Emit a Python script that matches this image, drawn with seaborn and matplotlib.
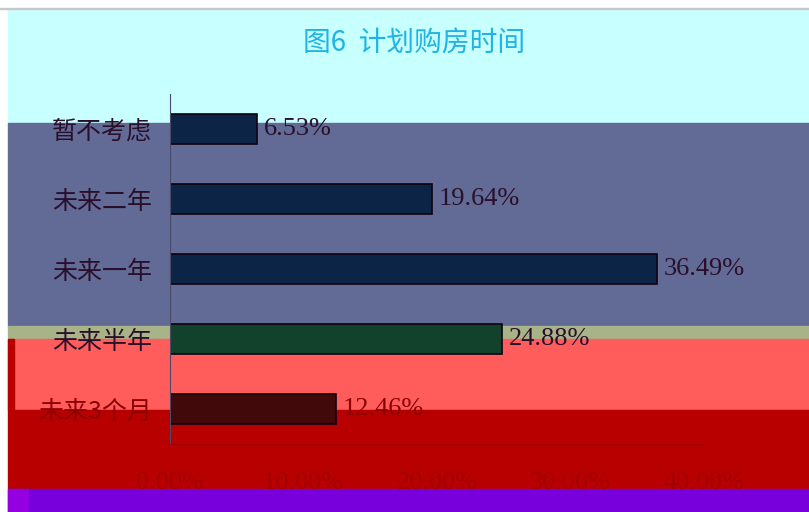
import matplotlib
matplotlib.use("Agg")
import matplotlib.pyplot as plt
from matplotlib.patches import Rectangle
import seaborn as sns
import pandas as pd

# data
categories = ["暂不考虑", "未来二年", "未来一年", "未来半年", "未来3个月"]
shares = [6.53, 19.64, 36.49, 24.88, 12.46]
x_ticks = [0, 10, 20, 30, 40]

bar_colors = ["#022450", "#022450", "#022450", "#0a4a2c", "#4a0000"]
label_colors = ["#2a0f2a", "#2a0f2a", "#2a0f2a", "#2a0f2a", "#8c0000"]

df = pd.DataFrame({"category": categories, "share": shares})

sns.set_theme(style="white")
plt.rcParams["font.family"] = ["Noto Sans CJK SC", "DejaVu Sans"]

W, H = 809, 512
fig = plt.figure(figsize=(W / 100, H / 100), dpi=100)
fig.patch.set_facecolor("white")

# background colour bands (pixel coords from top)
bands = [
    (8, 9, 123, "#c8ffff"),
    (8, 123, 326, "#626a96"),
    (8, 326, 339, "#a8b488"),
    (8, 339, 410, "#ff5c5c"),
    (8, 410, 489, "#b80000"),
    (8, 489, 512, "#7700dd"),
    (8, 339, 410, "#b80000"),
]
for i, (x0, y0, y1, c) in enumerate(bands):
    w = (14 - x0) if i == 6 else (W - x0)
    fig.patches.append(Rectangle((x0 / W, 1 - y1 / H), w / W, (y1 - y0) / H,
                                 transform=fig.transFigure, color=c, zorder=-5))
fig.patches.append(Rectangle((8 / W, 0), 20 / W, 23 / H, transform=fig.transFigure,
                             color="#9400e0", zorder=-5))
fig.patches.append(Rectangle((0, 1 - 9 / H), 1, 1.5 / H, transform=fig.transFigure,
                             color="#c8c8c8", zorder=-5))

ax = fig.add_axes([170 / W, 1 - 444 / H, (704 - 170) / W, (444 - 94) / H])
ax.set_facecolor("none")
ax.set_zorder(2)

sns.barplot(data=df, x="share", y="category", hue="category", palette=bar_colors,
            orient="h", width=0.43, edgecolor="#100010", linewidth=1.2,
            legend=False, ax=ax)

ax.set_xlim(0, 40)
ax.set_ylim(4.5, -0.5)
ax.set_xticks(x_ticks)
ax.set_xticklabels([f"{t:.2f}%" for t in x_ticks], fontsize=19,
                   family=["Liberation Serif", "DejaVu Serif"], color="#a20000")
ax.set_yticks(range(len(categories)))
ax.set_yticklabels(categories, fontsize=18, family=["Noto Sans CJK SC", "DejaVu Sans"])
for lab, c in zip(ax.get_yticklabels(), label_colors):
    lab.set_color(c)
ax.tick_params(axis="both", length=0)
ax.tick_params(axis="x", pad=20)
ax.tick_params(axis="y", pad=13)
ax.set_xlabel("")
ax.set_ylabel("")

for s in ["top", "right"]:
    ax.spines[s].set_visible(False)
ax.spines["left"].set_color("#4a4a6a")
ax.spines["left"].set_linewidth(0.8)
ax.spines["bottom"].set_color("#a00000")
ax.spines["bottom"].set_linewidth(0.8)

for i, (v, c) in enumerate(zip(shares, label_colors)):
    ax.text(v + 0.5, i, f"{v:.2f}%", va="center", ha="left", fontsize=19,
            family=["Liberation Serif", "DejaVu Serif"], color=c)

fig.text(414 / W, 1 - 43 / H, "图6  计划购房时间", ha="center", va="center",
         fontsize=20, fontweight="medium", color="#1eb4e6")

fig.savefig("out.png", dpi=100)
